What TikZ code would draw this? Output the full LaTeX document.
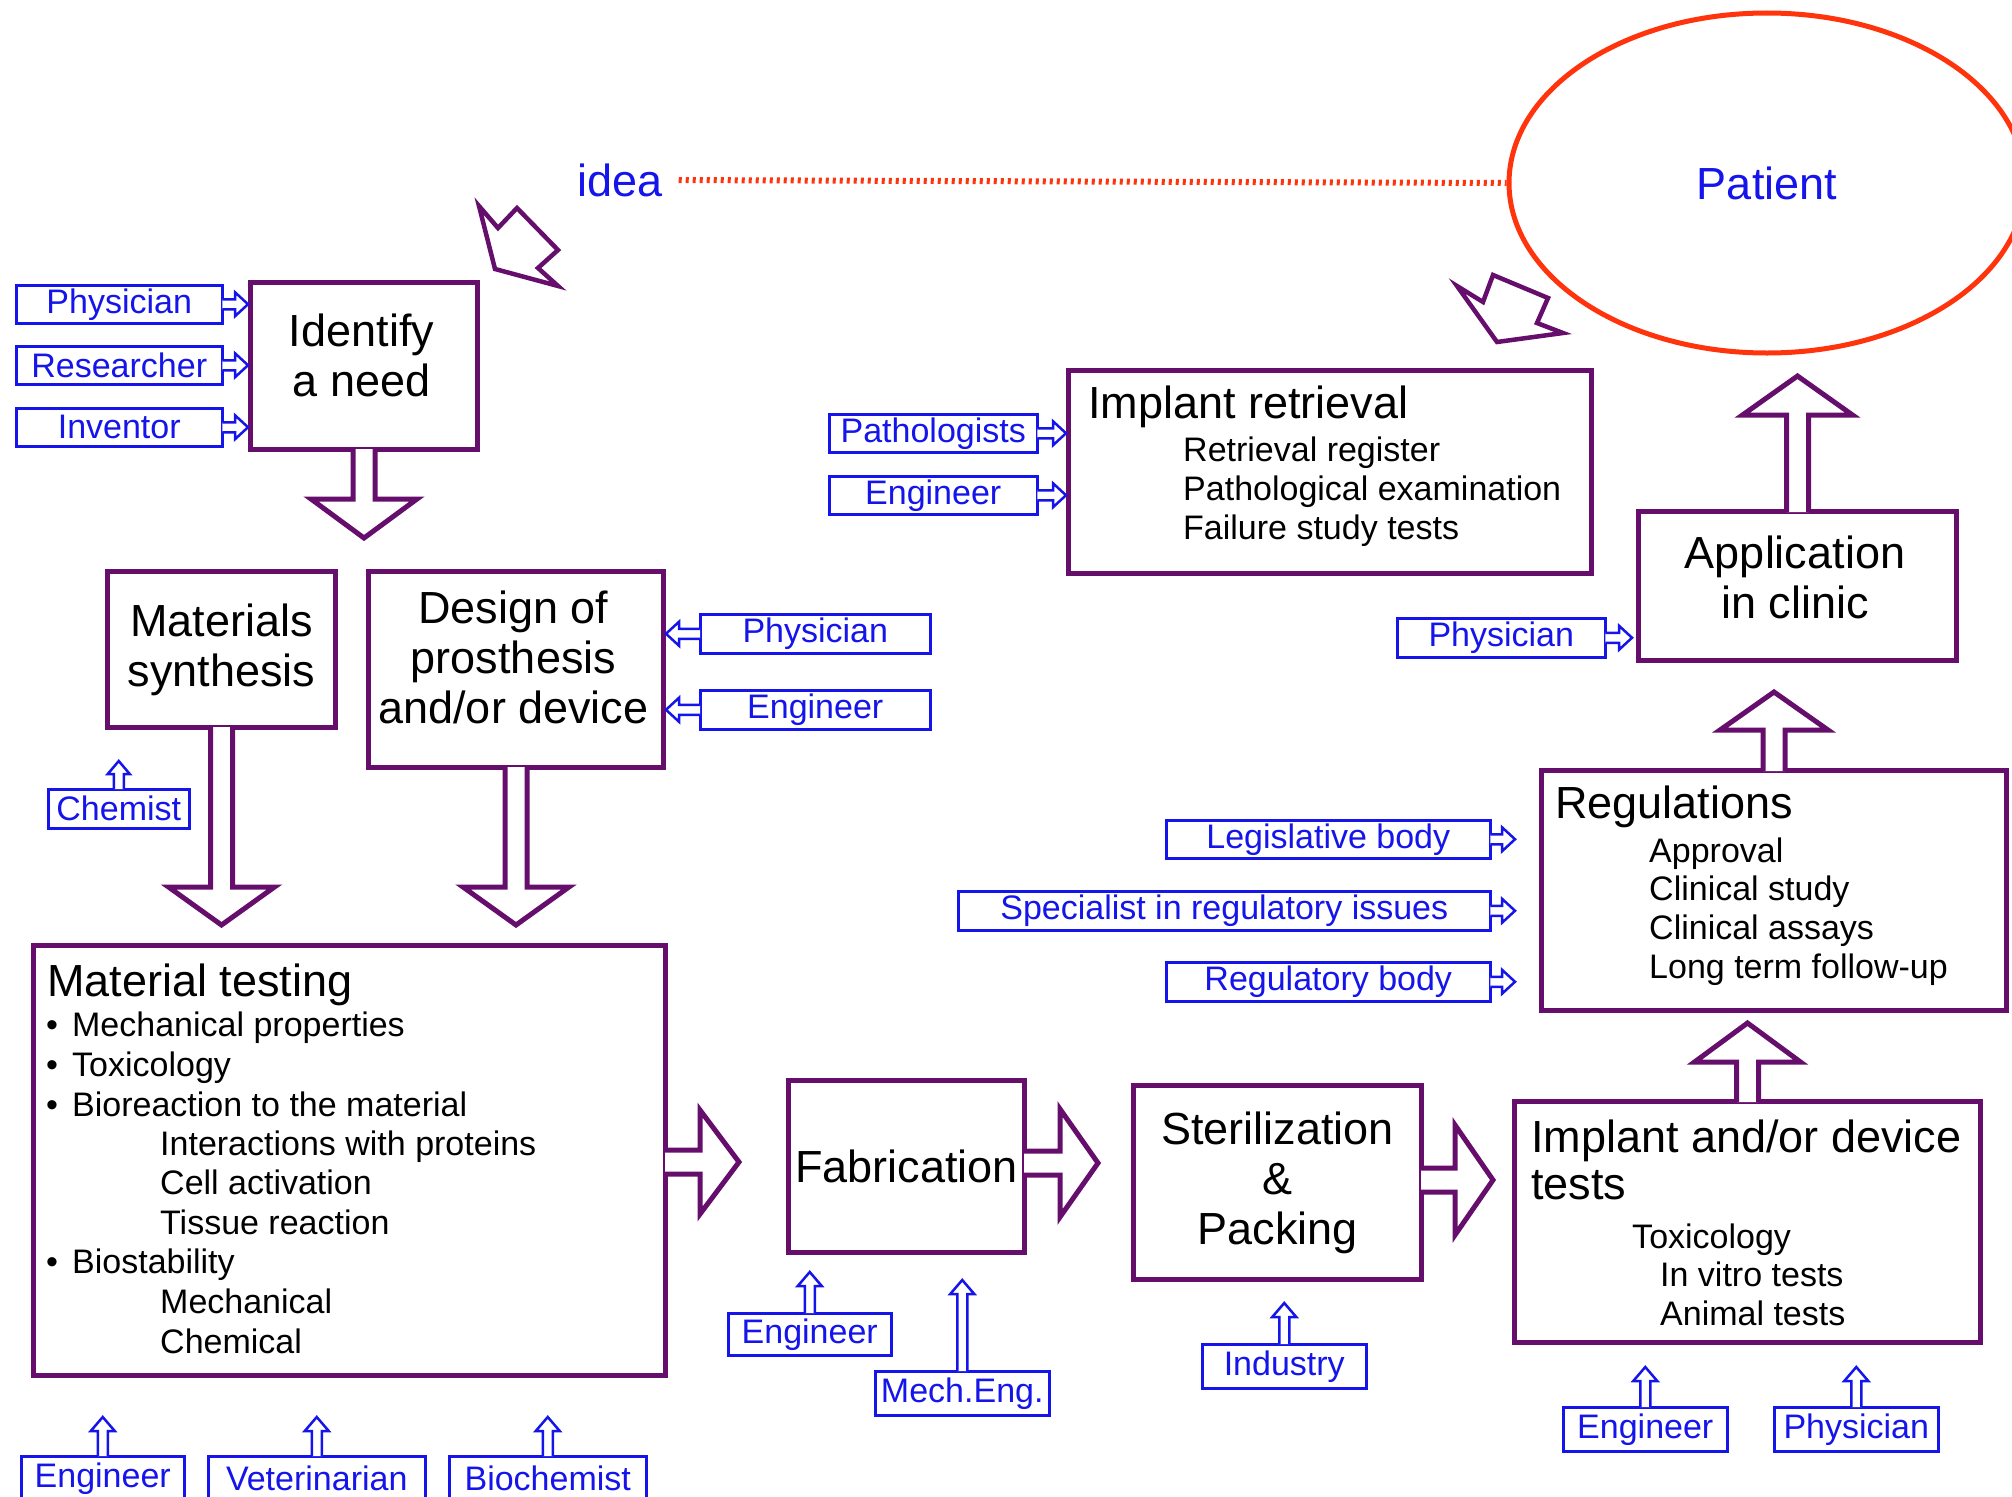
\documentclass[tikz,border=0pt]{standalone}
\usepackage{fontspec}
\setmainfont{Liberation Sans}
\usetikzlibrary{calc,shapes.geometric}
\definecolor{pur}{RGB}{102,14,108}
\definecolor{blu}{RGB}{20,20,235}
\definecolor{rd}{RGB}{255,52,12}
\newcommand\fT{\fontsize{45}{50}\selectfont}
\newcommand\fS{\fontsize{34}{39.5}\selectfont}
% hollow block arrow: #1 style, #2 start, #3 tip, #4 shaft half width, #5 head half width, #6 head length, #7 start inset
\newcommand\harrow[7]{%
  \coordinate (hS) at ($(#2)!-#7!(#3)$);
  \coordinate (hT) at (#3);
  \coordinate (hB) at ($(hT)!#6!(hS)$);
  \draw[#1] ($(hS)!#4!90:(hT)$) -- ($(hB)!#4!90:(hT)$) -- ($(hB)!#5!90:(hT)$) -- (hT)
     -- ($(hB)!#5!-90:(hT)$) -- ($(hB)!#4!-90:(hT)$) -- ($(hS)!#4!-90:(hT)$);
}
\begin{document}
\begin{tikzpicture}[x=1pt,y=-1pt,
  pbox/.style={draw=pur,line width=5pt,fill=white,inner sep=0pt,anchor=north west,align=center,font=\fT},
  ctxt/.style={inner sep=0pt,align=center,font=\fT},
  lbox/.style={draw=blu,line width=2.5pt,fill=white,inner sep=0pt,anchor=north west,text=blu,font=\fS},
  bigarr/.style={draw=pur,fill=white,line width=5pt,line join=miter},
  tiltarr/.style={draw=pur,fill=white,line width=4.5pt,line join=miter},
  smarr/.style={draw=blu,fill=white,line width=2.5pt,line join=miter},
  ttl/.style={anchor=base west,inner sep=0pt,font=\fT},
  sub/.style={anchor=base west,inner sep=0pt,font=\fS},
  dotline/.style={draw=rd,line width=6pt,dash pattern=on 3pt off 4pt}
]
\useasboundingbox (0,0) rectangle (2012,1496);
\clip (0,0) rectangle (2012,1496);

% idea / patient
\node[ellipse,draw=rd,line width=5pt,minimum width=516pt,minimum height=340pt,inner sep=0pt,text=blu,font=\fT] (pat) at (1767,183) {Patient};
\node[inner sep=0pt,text=blu,font=\fT] (idea) at (620,180) {idea};
\draw[dotline,shorten <=16pt] (idea.east) -- (pat.west);

% tilted hollow arrows
\draw[tiltarr] (479,206) -- (498,228) -- (517,208) -- (558,250) -- (538,268) -- (558,286) -- (495,269) -- cycle;
\draw[tiltarr] (1457,286) -- (1483,302) -- (1493,275) -- (1548,298) -- (1537,323) -- (1563,333) -- (1497,342) -- cycle;

% main boxes
\node[pbox,minimum width=227pt,minimum height=167pt] (ident) at (248,280) {};
\node[ctxt] (identT) at (361.5,355) {Identify\\a need};
\node[pbox,minimum width=228pt,minimum height=156pt] (matsyn) at (105,569) {Materials\\synthesis};
\node[pbox,minimum width=295pt,minimum height=196pt] (design) at (366,569) {};
\node[ctxt] (designT) at (513.5,657) {Design of\\prosthesis\\and/or device};
\node[pbox,minimum width=632pt,minimum height=430pt] (mattest) at (31,943) {};
\node[pbox,minimum width=236pt,minimum height=172pt] (fab) at (786,1078) {Fabrication};
\node[pbox,minimum width=288pt,minimum height=194pt] (steril) at (1131,1083) {Sterilization\\\&\\Packing};
\node[pbox,minimum width=466pt,minimum height=241pt] (implt) at (1512,1099) {};
\node[pbox,minimum width=465pt,minimum height=240pt] (regs) at (1539,768) {};
\node[pbox,minimum width=318pt,minimum height=149pt] (appl) at (1636,509) {};
\node[ctxt] (applT) at (1795,577) {Application\\in clinic};
\node[pbox,minimum width=523pt,minimum height=203pt] (retr) at (1066,368) {};

% texts in boxes
\node[ttl] (mtT) at (47,996) {Material testing};
\node[sub] (mt1) at (46,1036) {\makebox[26pt][l]{•}Mechanical properties};
\node[sub] (mt2) at (46,1076) {\makebox[26pt][l]{•}Toxicology};
\node[sub] (mt3) at (46,1116) {\makebox[26pt][l]{•}Bioreaction to the material};
\node[sub] (mt4) at (160,1155) {Interactions with proteins};
\node[sub] (mt5) at (160,1194) {Cell activation};
\node[sub] (mt6) at (160,1234) {Tissue reaction};
\node[sub] (mt7) at (46,1273) {\makebox[26pt][l]{•}Biostability};
\node[sub] (mt8) at (160,1313) {Mechanical};
\node[sub] (mt9) at (160,1353) {Chemical};

\node[ttl] (rT) at (1088,418) {Implant retrieval};
\node[sub] (r1) at (1183,461) {Retrieval register};
\node[sub] (r2) at (1183,500) {Pathological examination};
\node[sub] (r3) at (1183,539) {Failure study tests};

\node[ttl] (gT) at (1555,818) {Regulations};
\node[sub] (g1) at (1649,862) {Approval};
\node[sub] (g2) at (1649,900) {Clinical study};
\node[sub] (g3) at (1649,939) {Clinical assays};
\node[sub] (g4) at (1649,978) {Long term follow-up};

\node[ttl] (iT1) at (1531,1152) {Implant and/or device};
\node[ttl] (iT2) at (1531,1199) {tests};
\node[sub] (i1) at (1632,1248) {Toxicology};
\node[sub] (i2) at (1660,1286) {In vitro tests};
\node[sub] (i3) at (1660,1325) {Animal tests};

% labels
\node[lbox,minimum width=206pt,minimum height=38pt] (Lp1) at (15,284) {Physician};
\node[lbox,minimum width=206pt,minimum height=38pt] (Lr1) at (15,345) {Researcher};
\node[lbox,minimum width=206pt,minimum height=38pt] (Li1) at (15,407) {Inventor};
\node[lbox,minimum width=141pt,minimum height=39pt] (Lch) at (47,788) {Chemist};
\node[lbox,minimum width=230pt,minimum height=39pt] (Ldp) at (699,613) {Physician};
\node[lbox,minimum width=230pt,minimum height=39pt] (Lde) at (699,689) {Engineer};
\node[lbox,minimum width=208pt,minimum height=38pt] (Lpa) at (828,413) {Pathologists};
\node[lbox,minimum width=208pt,minimum height=38pt] (Lre) at (828,475) {Engineer};
\node[lbox,minimum width=208pt,minimum height=39pt] (Lap) at (1396,617) {Physician};
\node[lbox,minimum width=324pt,minimum height=38pt] (Llg) at (1165,819) {Legislative body};
\node[lbox,minimum width=532pt,minimum height=39pt] (Lsp) at (957,890) {Specialist in regulatory issues};
\node[lbox,minimum width=324pt,minimum height=39pt] (Lrg) at (1165,961) {Regulatory body};
\node[lbox,minimum width=163pt,minimum height=42pt] (Lfe) at (727,1312) {Engineer};
\node[lbox,minimum width=174pt,minimum height=44pt] (Lme) at (874,1370) {Mech.Eng.};
\node[lbox,minimum width=164pt,minimum height=44pt] (Lin) at (1201,1343) {Industry};
\node[lbox,minimum width=164pt,minimum height=44pt] (Lie) at (1562,1406) {Engineer};
\node[lbox,minimum width=164pt,minimum height=44pt] (Lip) at (1773,1406) {Physician};
\node[lbox,minimum width=163pt,minimum height=45pt] (Lbe) at (20,1455) {Engineer};
\node[lbox,minimum width=217pt,minimum height=45pt] (Lbv) at (207,1455) {Veterinarian};
\node[lbox,minimum width=197pt,minimum height=45pt] (Lbb) at (448,1455) {Biochemist};

% big block arrows
\coordinate (t1) at ($(ident.south)+(0,86)$);
\coordinate (t2) at ($(matsyn.south)+(0,195)$);
\coordinate (t3) at ($(design.south)+(0,155)$);
\coordinate (t4) at (739,1162);
\coordinate (t5) at (1098,1163);
\coordinate (t6) at (1493,1180);
\coordinate (t7) at ($(implt.north)+(0,-76)$);
\coordinate (t8) at ($(regs.north)+(0,-76)$);
\coordinate (t9) at ($(appl.north)+(0,-133)$);
\harrow{bigarr}{ident.south}{t1}{11pt}{53pt}{39pt}{3pt}
\harrow{bigarr}{matsyn.south}{t2}{11pt}{53pt}{38pt}{3pt}
\harrow{bigarr}{design.south}{t3}{11pt}{53pt}{38pt}{3pt}
\harrow{bigarr}{mattest.east |- t4}{t4}{12pt}{52pt}{39pt}{3pt}
\harrow{bigarr}{fab.east |- t5}{t5}{12pt}{54pt}{38pt}{3pt}
\harrow{bigarr}{steril.east |- t6}{t6}{12pt}{55pt}{38pt}{3pt}
\harrow{bigarr}{implt.north}{t7}{11pt}{53pt}{39pt}{3pt}
\harrow{bigarr}{regs.north}{t8}{11pt}{54pt}{38pt}{3pt}
\harrow{bigarr}{appl.north}{t9}{11pt}{55pt}{39pt}{3pt}

% small blue arrows
\harrow{smarr}{Lp1.east}{ident.west |- Lp1.east}{5pt}{12pt}{13pt}{1.2pt}
\harrow{smarr}{Lr1.east}{ident.west |- Lr1.east}{5pt}{12pt}{13pt}{1.2pt}
\harrow{smarr}{Li1.east}{ident.west |- Li1.east}{5pt}{12pt}{13pt}{1.2pt}
\harrow{smarr}{Lch.north}{$(Lch.north |- matsyn.south)+(0,31)$}{5pt}{11pt}{13pt}{1.2pt}
\harrow{smarr}{Ldp.west}{design.east |- Ldp.west}{5pt}{12pt}{13pt}{1.2pt}
\harrow{smarr}{Lde.west}{design.east |- Lde.west}{5pt}{12pt}{13pt}{1.2pt}
\harrow{smarr}{Lpa.east}{retr.west |- Lpa.east}{5pt}{12pt}{13pt}{1.2pt}
\harrow{smarr}{Lre.east}{retr.west |- Lre.east}{5pt}{12pt}{13pt}{1.2pt}
\harrow{smarr}{Lap.east}{$(appl.west |- Lap.east)+(-4,0)$}{5pt}{12pt}{13pt}{1.2pt}
\harrow{smarr}{Llg.east}{$(regs.west |- Llg.east)+(-24,0)$}{5pt}{12pt}{13pt}{1.2pt}
\harrow{smarr}{Lsp.east}{$(regs.west |- Lsp.east)+(-24,0)$}{5pt}{12pt}{13pt}{1.2pt}
\harrow{smarr}{Lrg.east}{$(regs.west |- Lrg.east)+(-24,0)$}{5pt}{12pt}{13pt}{1.2pt}
\harrow{smarr}{Lfe.north}{$(Lfe.north |- fab.south)+(0,17)$}{5pt}{12pt}{14pt}{1.2pt}
\harrow{smarr}{Lme.north}{$(Lme.north |- fab.south)+(0,25)$}{5pt}{12pt}{14pt}{1.2pt}
\harrow{smarr}{Lin.north}{$(Lin.north |- steril.south)+(0,21)$}{5pt}{12pt}{14pt}{1.2pt}
\harrow{smarr}{Lie.north}{$(Lie.north |- implt.south)+(0,22)$}{5pt}{12pt}{14pt}{1.2pt}
\harrow{smarr}{Lip.north}{$(Lip.north |- implt.south)+(0,22)$}{5pt}{12pt}{14pt}{1.2pt}
\harrow{smarr}{Lbe.north}{$(Lbe.north |- mattest.south)+(0,39)$}{5pt}{12pt}{14pt}{1.2pt}
\harrow{smarr}{Lbv.north}{$(Lbv.north |- mattest.south)+(0,39)$}{5pt}{12pt}{14pt}{1.2pt}
\harrow{smarr}{Lbb.north}{$(Lbb.north |- mattest.south)+(0,39)$}{5pt}{12pt}{14pt}{1.2pt}
\end{tikzpicture}
\end{document}
